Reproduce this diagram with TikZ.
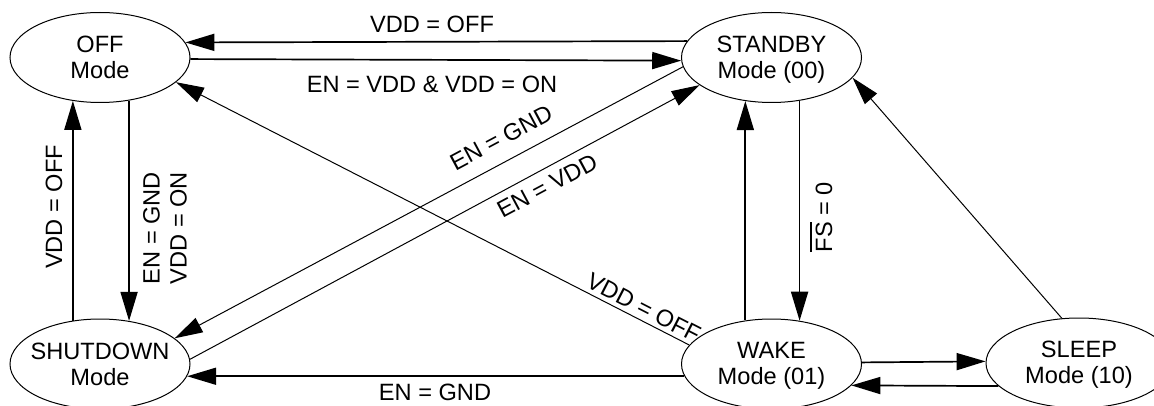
\documentclass[tikz,border=0pt]{standalone}
\usepackage{fontspec}
\setmainfont{Liberation Sans}
\usetikzlibrary{arrows.meta,shapes.geometric}
\newcommand\lnstrut{\rule[-4.5pt]{0pt}{25pt}}
\newcommand\twoline[2]{\makebox[0pt]{\lnstrut #1}\\\makebox[0pt]{\lnstrut #2}}
\newcommand\ovltext[1]{\setbox0=\hbox{#1}\rlap{\rule[\dimexpr\ht0+4pt\relax]{\wd0}{1.3pt}}\box0\relax}
\begin{document}
\begin{tikzpicture}[x=1pt,y=1pt,
  state/.style={draw, line width=1pt, ellipse, minimum width=180pt, minimum height=90pt,
    inner sep=0pt, align=center, font=\fontsize{23.6}{26}\selectfont},
  lbl/.style={inner sep=0pt, font=\fontsize{23.6}{27}\selectfont},
  ortho/.style={line width=1.7pt, -{Triangle[length=29pt,width=17pt]}},
  diag/.style={line width=1pt, -{Triangle[length=28pt,width=16pt]}}]
\fill[white] (0,0) rectangle (1154,-406);
\useasboundingbox (0,0) rectangle (1154,-406);
% states
\node[state] (off) at (100,-57.5) {\twoline{OFF}{Mode}};
\node[state] (standby) at (771.5,-57.5) {\twoline{STANDBY}{Mode (00)}};
\node[state] (shutdown) at (100,-364) {\twoline{SHUTDOWN}{Mode}};
\node[state] (wake) at (771.5,-364) {\twoline{WAKE}{Mode (01)}};
\node[state, minimum width=186pt] (sleep) at (1079,-363) {\twoline{SLEEP}{Mode (10)}};
% connectors
\draw[ortho] (standby.169.6) -- (off.10.4);
\draw[ortho] (off.-1.6) -- (standby.-178.4);
\draw[ortho] (wake.121.6) -- (standby.-121.6);
\draw[ortho] (standby.-57.3) -- (wake.57.3);
\draw[ortho] (off.-56.8) -- (shutdown.56.8);
\draw[ortho] (shutdown.122.2) -- (off.-122.2);
\draw[ortho] (wake.1.3) -- (sleep.179.4);
\draw[ortho] (sleep.196.05) -- (wake.-15.65);
\draw[ortho] (wake.188.6) -- (shutdown.-8.6);
\draw[diag] (sleep.111.1) -- (standby.-14.95);
\draw[diag] (wake.167.93) -- (off.-18.32);
\draw[diag] (standby.186.06) -- (shutdown.19.32);
\draw[diag] (shutdown.3.18) -- (standby.201.87);
% labels
\node[lbl, anchor=base] (lvddoff) at (432,-33) {VDD = OFF};
\node[lbl, anchor=base] (lenvdd) at (432,-93) {EN = VDD \& VDD = ON};
\node[lbl, anchor=base] (lengndb) at (435,-400) {EN = GND};
\node[lbl, anchor=base, rotate=90] (lvddoffv) at (62,-207) {VDD = OFF};
\node[lbl, anchor=center, rotate=90, align=center] (lengndv) at (165,-228) {EN = GND\\VDD = ON};
\node[lbl, anchor=base, rotate=90] (lfs) at (832,-217) {\ovltext{FS} = 0};
\node[lbl, anchor=base, rotate=28.1] (lengndd) at (505,-145) {EN = GND};
\node[lbl, anchor=base, rotate=28.1] (lenvddd) at (551,-193) {EN = VDD};
\node[lbl, anchor=base, rotate=-27.2] (lvddoffd) at (640,-315) {VDD = OFF};
\end{tikzpicture}
\end{document}
